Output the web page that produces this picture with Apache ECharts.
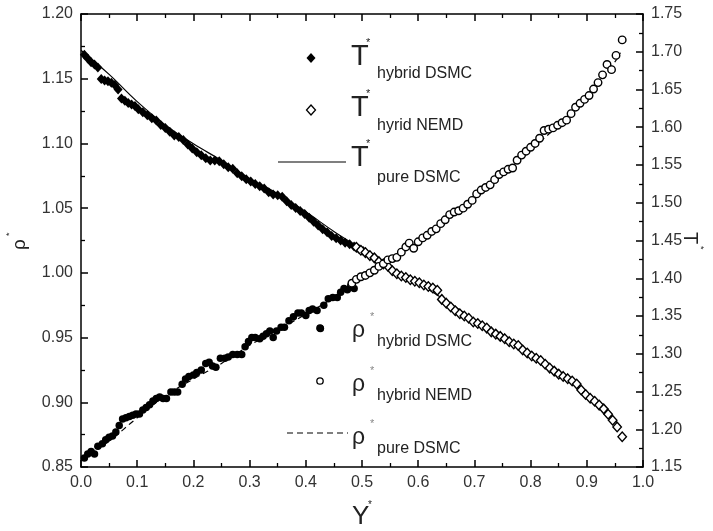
<!DOCTYPE html>
<html>
<head>
<meta charset="utf-8">
<script src="https://cdn.jsdelivr.net/npm/echarts@6/dist/echarts.min.js"></script>
<style>
html,body{margin:0;padding:0;background:#fff}
#chart{width:713px;height:531px}
</style>
</head>
<body>
<div id="chart"></div>
<script>
// T* hybrid DSMC (filled diamonds, right axis)
var tDsmcX = [0.006,0.012,0.018,0.024,0.030,0.036,0.042,0.048,0.054,0.060,0.066,0.072,0.078,0.084,0.090,0.096,0.102,0.110,0.118,0.126,0.134,0.142,0.150,0.158,0.166,0.174,0.182,0.190,0.198,0.206,0.214,0.222,0.230,0.238,0.246,0.254,0.262,0.270,0.278,0.286,0.294,0.302,0.310,0.318,0.326,0.334,0.342,0.350,0.358,0.366,0.374,0.382,0.390,0.398,0.406,0.414,0.422,0.430,0.438,0.446,0.454,0.462,0.470,0.478,0.486,0.494,0.502];
var tDsmc = [1.696,1.691,1.686,1.683,1.679,1.664,1.662,1.661,1.659,1.656,1.650,1.638,1.635,1.632,1.630,1.628,1.624,1.620,1.616,1.612,1.609,1.603,1.599,1.594,1.589,1.587,1.583,1.577,1.572,1.567,1.563,1.559,1.556,1.556,1.555,1.551,1.547,1.545,1.539,1.535,1.531,1.528,1.525,1.522,1.519,1.514,1.511,1.510,1.508,1.502,1.497,1.493,1.489,1.485,1.480,1.475,1.470,1.465,1.461,1.456,1.453,1.450,1.447,1.445,1.442,1.439,1.436];

// T* hybrid NEMD (open diamonds, right axis)
var tNemdX = [0.490,0.498,0.506,0.514,0.522,0.530,0.538,0.546,0.554,0.562,0.570,0.578,0.586,0.594,0.602,0.610,0.618,0.626,0.634,0.642,0.650,0.658,0.666,0.674,0.682,0.690,0.698,0.706,0.714,0.722,0.730,0.738,0.746,0.754,0.762,0.770,0.778,0.786,0.794,0.802,0.810,0.818,0.826,0.834,0.842,0.850,0.858,0.866,0.874,0.882,0.890,0.898,0.906,0.914,0.922,0.930,0.938,0.946,0.954,0.963];
var tNemd = [1.441,1.437,1.434,1.430,1.427,1.422,1.419,1.416,1.410,1.406,1.403,1.401,1.398,1.396,1.394,1.391,1.389,1.387,1.384,1.372,1.367,1.362,1.357,1.353,1.350,1.347,1.342,1.340,1.337,1.334,1.329,1.326,1.323,1.320,1.316,1.313,1.311,1.305,1.301,1.297,1.294,1.291,1.286,1.281,1.277,1.273,1.270,1.267,1.264,1.260,1.252,1.246,1.241,1.237,1.232,1.227,1.220,1.212,1.203,1.190];

// rho* hybrid DSMC (filled circles, left axis)
var rDsmcX = [0.006,0.012,0.018,0.024,0.030,0.038,0.044,0.050,0.056,0.062,0.068,0.074,0.080,0.086,0.092,0.098,0.104,0.110,0.116,0.122,0.128,0.134,0.140,0.146,0.152,0.160,0.166,0.172,0.180,0.186,0.192,0.200,0.206,0.214,0.222,0.228,0.234,0.240,0.248,0.256,0.262,0.270,0.278,0.286,0.292,0.298,0.304,0.310,0.318,0.324,0.330,0.336,0.342,0.348,0.356,0.362,0.370,0.378,0.386,0.392,0.400,0.406,0.412,0.420,0.426,0.432,0.440,0.448,0.456,0.462,0.468,0.474,0.480,0.486];
var rDsmc = [0.857,0.860,0.862,0.860,0.866,0.868,0.871,0.873,0.874,0.877,0.882,0.887,0.888,0.889,0.890,0.891,0.891,0.894,0.896,0.898,0.901,0.903,0.904,0.903,0.903,0.908,0.908,0.908,0.914,0.918,0.920,0.921,0.923,0.925,0.930,0.931,0.928,0.927,0.934,0.934,0.935,0.937,0.937,0.937,0.943,0.947,0.950,0.950,0.949,0.951,0.953,0.955,0.950,0.955,0.958,0.958,0.963,0.966,0.969,0.969,0.967,0.971,0.972,0.971,0.957,0.975,0.980,0.981,0.981,0.985,0.988,0.987,0.990,0.988];

// rho* hybrid NEMD (open circles, left axis)
var rNemdX = [0.482,0.490,0.498,0.506,0.514,0.522,0.530,0.538,0.546,0.554,0.562,0.570,0.578,0.584,0.592,0.600,0.608,0.616,0.624,0.632,0.640,0.648,0.656,0.664,0.672,0.680,0.688,0.696,0.704,0.712,0.720,0.728,0.736,0.744,0.752,0.760,0.768,0.776,0.784,0.792,0.800,0.808,0.816,0.824,0.832,0.840,0.848,0.856,0.864,0.872,0.880,0.888,0.896,0.904,0.912,0.920,0.928,0.936,0.944,0.952,0.963];
var rNemd = [0.992,0.995,0.997,0.998,1.000,1.002,1.005,1.007,1.010,1.011,1.012,1.016,1.020,1.023,1.019,1.024,1.027,1.029,1.032,1.034,1.038,1.041,1.045,1.047,1.048,1.050,1.053,1.056,1.061,1.064,1.066,1.068,1.072,1.076,1.078,1.080,1.081,1.087,1.091,1.094,1.097,1.100,1.104,1.110,1.111,1.112,1.114,1.116,1.118,1.123,1.128,1.131,1.134,1.137,1.142,1.147,1.153,1.161,1.157,1.168,1.180];

// pure DSMC curves
var pureX = [0,0.05,0.1,0.15,0.2,0.25,0.3,0.35,0.4,0.45,0.5,0.55,0.6,0.65,0.7,0.75,0.8,0.85,0.9,0.95,0.96];
var tPure = [1.702,1.670,1.634,1.603,1.578,1.556,1.532,1.512,1.488,1.462,1.438,1.412,1.393,1.370,1.345,1.322,1.298,1.273,1.246,1.212,1.204];
var rPure = [0.855,0.870,0.888,0.905,0.918,0.930,0.944,0.956,0.968,0.981,0.996,1.010,1.024,1.041,1.057,1.076,1.095,1.114,1.135,1.163,1.170];

function zip(xs, ys){
	var out = [];
	for (var i = 0; i < xs.length; i++) out.push([xs[i], ys[i]]);
	return out;
}

var FONT = '"Liberation Sans", Arial, sans-serif';
var chart = echarts.init(document.getElementById('chart'));

function axisCommon(){
	return {
		axisLine: {show: true, onZero: false, lineStyle: {color: '#000', width: 1.5}},
		axisTick: {show: true, inside: true, length: 7, lineStyle: {color: '#000', width: 1.5}},
		minorTick: {show: true, splitNumber: 2, length: 4, lineStyle: {color: '#000', width: 1.3}},
		splitLine: {show: false},
		minorSplitLine: {show: false}
	};
}

var xBottom = axisCommon();
xBottom.type = 'value'; xBottom.position = 'bottom';
xBottom.min = 0; xBottom.max = 1; xBottom.interval = 0.1;
xBottom.axisLabel = {color: '#333', fontSize: 16, fontFamily: FONT, margin: 8, showMinLabel: true, showMaxLabel: true,
	formatter: function(v){ return v.toFixed(1); }};

var xTop = axisCommon();
xTop.type = 'value'; xTop.position = 'top';
xTop.min = 0; xTop.max = 1; xTop.interval = 0.1;
xTop.axisLabel = {show: false};

var yLeft = axisCommon();
yLeft.type = 'value'; yLeft.position = 'left';
yLeft.min = 0.85; yLeft.max = 1.20; yLeft.interval = 0.05;
yLeft.axisLabel = {color: '#333', fontSize: 16, fontFamily: FONT, margin: 8, showMinLabel: true, showMaxLabel: true,
	formatter: function(v){ return v.toFixed(2); }};

var yRight = axisCommon();
yRight.type = 'value'; yRight.position = 'right';
yRight.min = 1.15; yRight.max = 1.75; yRight.interval = 0.05;
yRight.axisLabel = {color: '#333', fontSize: 16, fontFamily: FONT, margin: 8, showMinLabel: true, showMaxLabel: true,
	formatter: function(v){ return v.toFixed(2); }};

function txt(x, y, s, size, color, extra){
	var el = {type: 'text', x: x, y: y, silent: true, z: 100,
		style: {text: s, fill: color || '#222', font: size + 'px ' + FONT, textVerticalAlign: 'middle', textAlign: 'left'}};
	if (extra) for (var k in extra) el[k] = extra[k];
	return el;
}

function diamond(cx, cy, filled){
	return {type: 'polygon', silent: true, z: 100,
		shape: {points: [[cx, cy - 5], [cx + 4.5, cy], [cx, cy + 5], [cx - 4.5, cy]]},
		style: filled ? {fill: '#000'} : {fill: '#fff', stroke: '#000', lineWidth: 1.3}};
}

var graphics = [
	// T legend
	diamond(311, 58, true),
	diamond(311, 110, false),
	{type: 'line', silent: true, z: 100, shape: {x1: 278, y1: 162, x2: 346, y2: 162}, style: {stroke: '#000', lineWidth: 1.2}},
	txt(351, 57, 'T', 29), txt(366, 43, '*', 11), txt(377, 74, 'hybrid DSMC', 16),
	txt(351, 108, 'T', 29), txt(366, 94, '*', 11), txt(377, 126, 'hyrid NEMD', 16),
	txt(351, 158, 'T', 29), txt(366, 144, '*', 11), txt(377, 178, 'pure DSMC', 16),
	// rho legend
	{type: 'circle', silent: true, z: 100, shape: {cx: 320, cy: 328, r: 3.8}, style: {fill: '#000'}},
	{type: 'circle', silent: true, z: 100, shape: {cx: 320, cy: 381, r: 3.2}, style: {fill: '#fff', stroke: '#000', lineWidth: 1.3}},
	{type: 'line', silent: true, z: 100, shape: {x1: 287, y1: 433, x2: 348, y2: 433}, style: {stroke: '#000', lineWidth: 1.2, lineDash: [6, 4]}},
	txt(352, 331, 'ρ', 23), txt(370, 317, '*', 11, '#888'), txt(377, 342, 'hybrid DSMC', 16),
	txt(352, 385, 'ρ', 23), txt(370, 371, '*', 11, '#888'), txt(377, 396, 'hybrid NEMD', 16),
	txt(352, 438, 'ρ', 23), txt(370, 424, '*', 11, '#888'), txt(377, 449, 'pure DSMC', 16),
	// axis names
	txt(352, 517, 'Y', 26), txt(368, 505, '*', 10),
	txt(20, 250, 'ρ', 19, '#222', {rotation: Math.PI / 2}), txt(10, 236, '*', 9, '#222', {rotation: Math.PI / 2}),
	txt(690, 232, 'T', 20, '#222', {rotation: -Math.PI / 2}), txt(700, 246, '*', 9, '#222', {rotation: -Math.PI / 2})
];

var option = {
	animation: false,
	backgroundColor: '#fff',
	grid: {left: 81, right: 70, top: 14, bottom: 64},
	xAxis: [xBottom, xTop],
	yAxis: [yLeft, yRight],
	graphic: graphics,
	series: [
		{
			name: 'T* pure DSMC', type: 'line', xAxisIndex: 0, yAxisIndex: 1,
			data: zip(pureX, tPure), smooth: 0.4, showSymbol: false, symbol: 'none',
			lineStyle: {color: '#000', width: 1.2}, z: 1
		},
		{
			name: 'rho* pure DSMC', type: 'line', xAxisIndex: 0, yAxisIndex: 0,
			data: zip(pureX, rPure), smooth: 0.4, showSymbol: false, symbol: 'none',
			lineStyle: {color: '#000', width: 1.2, type: [6, 4]}, z: 1
		},
		{
			name: 'T* hybrid DSMC', type: 'scatter', xAxisIndex: 0, yAxisIndex: 1,
			data: zip(tDsmcX, tDsmc), symbol: 'diamond', symbolSize: [9, 10],
			itemStyle: {color: '#000', opacity: 1}, z: 2
		},
		{
			name: 'T* hybrid NEMD', type: 'scatter', xAxisIndex: 0, yAxisIndex: 1,
			data: zip(tNemdX, tNemd), symbol: 'diamond', symbolSize: [8.5, 9.5],
			itemStyle: {color: '#fff', borderColor: '#000', borderWidth: 1.4, opacity: 1}, z: 2
		},
		{
			name: 'rho* hybrid DSMC', type: 'scatter', xAxisIndex: 0, yAxisIndex: 0,
			data: zip(rDsmcX, rDsmc), symbol: 'circle', symbolSize: 7.5,
			itemStyle: {color: '#000', opacity: 1}, z: 2
		},
		{
			name: 'rho* hybrid NEMD', type: 'scatter', xAxisIndex: 0, yAxisIndex: 0,
			data: zip(rNemdX, rNemd), symbol: 'circle', symbolSize: 7.5,
			itemStyle: {color: '#fff', borderColor: '#000', borderWidth: 1.4, opacity: 1}, z: 2
		}
	]
};
chart.setOption(option);
</script>
</body>
</html>
